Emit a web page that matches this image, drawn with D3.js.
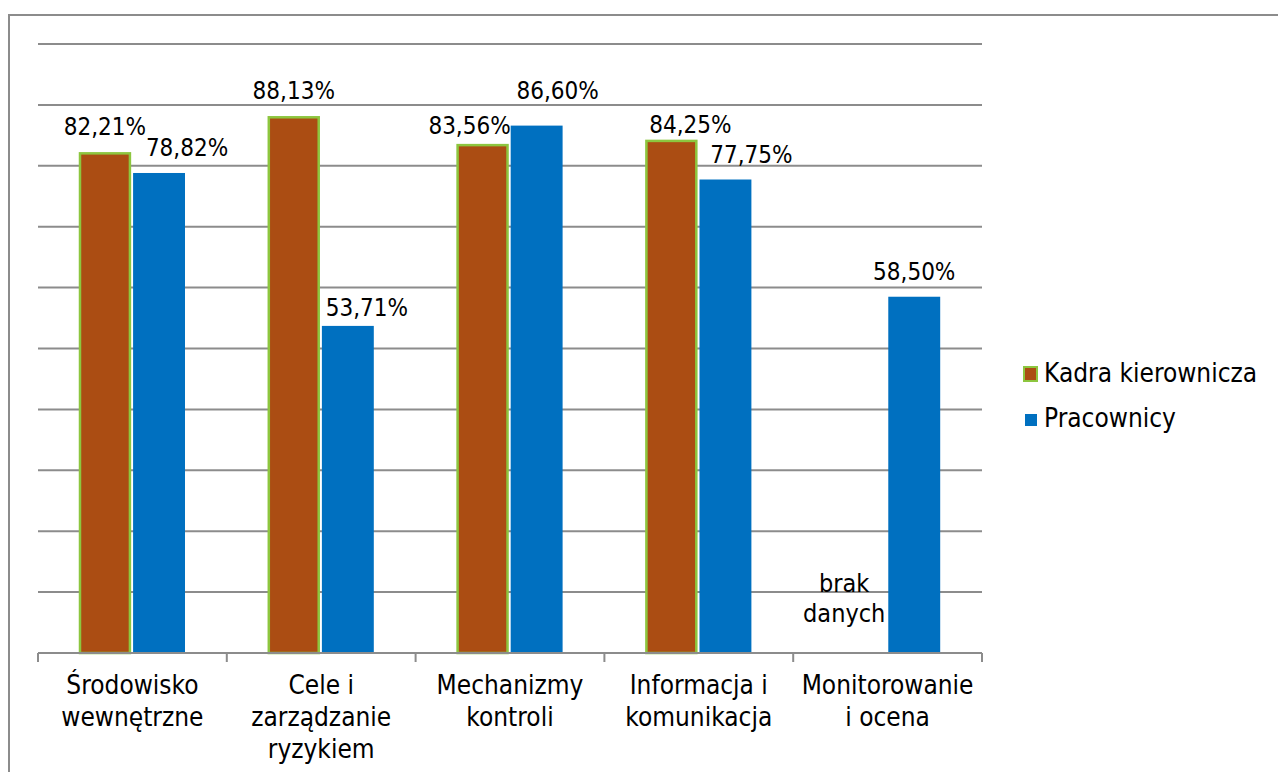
<!DOCTYPE html>
<html>
<head>
<meta charset="utf-8">
<script src="https://cdn.jsdelivr.net/npm/d3@7"></script>
<style>
  body { margin: 0; background: #fff; }
  text { font-family: "DejaVu Sans Condensed", "DejaVu Sans", sans-serif; fill: #000; }
</style>
</head>
<body>
<div id="chart"></div>
<script>
// categories and series
const categories = [
    ["Środowisko", "wewnętrzne"],
    ["Cele i", "zarządzanie", "ryzykiem"],
    ["Mechanizmy", "kontroli"],
    ["Informacja i", "komunikacja"],
    ["Monitorowanie", "i ocena"]
];
const seriesNames = ["Kadra kierownicza", "Pracownicy"];
const kadraValues = [82.21, 88.13, 83.56, 84.25, null];
const pracownicyValues = [78.82, 53.71, 86.60, 77.75, 58.50];
const missingLabel = ["brak", "danych"];
const yTicks = [0, 10, 20, 30, 40, 50, 60, 70, 80, 90, 100];

// manual label nudges [dx, dy] (the original labels were dragged around)
const kadraNudge = [[0, 0], [0, 0], [-13, 7], [19, 10], [0, 0]];
const pracNudge = [[28, 0], [19, 7], [21, -10], [26, 0], [0, 0]];

const width = 1278;
const height = 772;
const margin = {top: 44, left: 38, right: 296, bottom: 119};

const svg = d3.select("#chart")
    .append("svg")
    .attr("width", width)
    .attr("height", height);

// outer chart border (runs off the right and bottom edges)
svg.append("rect")
    .attr("x", 9)
    .attr("y", 15)
    .attr("width", 1400)
    .attr("height", 900)
    .attr("fill", "none")
    .attr("stroke", "#8c8c8c")
    .attr("stroke-width", 2);

const xScale = d3.scaleBand()
    .domain(d3.range(categories.length))
    .range([margin.left, width - margin.right])
    .padding(0);

const xSub = d3.scaleBand()
    .domain(seriesNames)
    .range([41, 147])
    .paddingInner(0.04);

const yScale = d3.scaleLinear()
    .domain([0, 100])
    .range([height - margin.bottom, margin.top]);

// gridlines
svg.selectAll("line.grid")
    .data(yTicks.slice(1))
    .enter()
    .append("line")
        .attr("class", "grid")
        .attr("x1", margin.left)
        .attr("x2", width - margin.right)
        .attr("y1", d => yScale(d))
        .attr("y2", d => yScale(d))
        .attr("stroke", "#8c8c8c")
        .attr("stroke-width", 2);

// bars
const barData = [];
categories.forEach(function(c, i) {
    barData.push({i: i, s: seriesNames[0], v: kadraValues[i], nudge: kadraNudge[i]});
    barData.push({i: i, s: seriesNames[1], v: pracownicyValues[i], nudge: pracNudge[i]});
});
const present = barData.filter(d => d.v !== null);

svg.selectAll("rect.bar")
    .data(present)
    .enter()
    .append("rect")
        .attr("class", "bar")
        .attr("x", d => xScale(d.i) + xSub(d.s) + (d.s === seriesNames[0] ? 1 : 0))
        .attr("y", d => yScale(d.v) + (d.s === seriesNames[0] ? 1 : 0))
        .attr("width", d => xSub.bandwidth() - (d.s === seriesNames[0] ? 2 : 0))
        .attr("height", d => yScale(0) - yScale(d.v) - (d.s === seriesNames[0] ? 1 : 0))
        .attr("fill", d => d.s === seriesNames[0] ? "#ab4d13" : "#0070c0")
        .attr("stroke", d => d.s === seriesNames[0] ? "#8dc63f" : "none")
        .attr("stroke-width", 2.5);

// value labels
svg.selectAll("text.vlabel")
    .data(present)
    .enter()
    .append("text")
        .attr("class", "vlabel")
        .attr("x", d => xScale(d.i) + xSub(d.s) + xSub.bandwidth() / 2 + d.nudge[0])
        .attr("y", d => yScale(d.v) - 17 + d.nudge[1])
        .attr("text-anchor", "middle")
        .style("font-size", "24px")
        .text(d => d.v.toFixed(2).replace(".", ",") + "%");

// "brak danych" for missing value
missingLabel.forEach(function(t, j) {
    svg.append("text")
        .attr("x", xScale(4) + 51)
        .attr("y", 592 + j * 30)
        .attr("text-anchor", "middle")
        .style("font-size", "25px")
        .text(t);
});

// category axis
const base = yScale(0);
svg.append("line")
    .attr("x1", margin.left)
    .attr("x2", width - margin.right)
    .attr("y1", base)
    .attr("y2", base)
    .attr("stroke", "#8c8c8c")
    .attr("stroke-width", 2);

const tickXs = d3.range(categories.length).map(i => xScale(i)).concat([width - margin.right]);
svg.selectAll("line.tick")
    .data(tickXs)
    .enter()
    .append("line")
        .attr("class", "tick")
        .attr("x1", d => d)
        .attr("x2", d => d)
        .attr("y1", base)
        .attr("y2", base + 9)
        .attr("stroke", "#8c8c8c")
        .attr("stroke-width", 2);

categories.forEach(function(lines, i) {
    const t = svg.append("text")
        .attr("text-anchor", "middle")
        .style("font-size", "26px");
    lines.forEach(function(l, j) {
        t.append("tspan")
            .attr("x", xScale(i) + xScale.bandwidth() / 2)
            .attr("y", 694 + j * 32)
            .text(l);
    });
});

// legend
const legend = svg.append("g");
legend.append("rect")
    .attr("x", 1024)
    .attr("y", 367)
    .attr("width", 13)
    .attr("height", 14)
    .attr("fill", "#ab4d13")
    .attr("stroke", "#8dc63f")
    .attr("stroke-width", 2);
legend.append("rect")
    .attr("x", 1025)
    .attr("y", 414)
    .attr("width", 12)
    .attr("height", 12)
    .attr("fill", "#0070c0");
legend.selectAll("text")
    .data(seriesNames)
    .enter()
    .append("text")
        .attr("x", 1044)
        .attr("y", (d, i) => 382 + i * 45)
        .style("font-size", "26px")
        .text(d => d);
</script>
</body>
</html>
